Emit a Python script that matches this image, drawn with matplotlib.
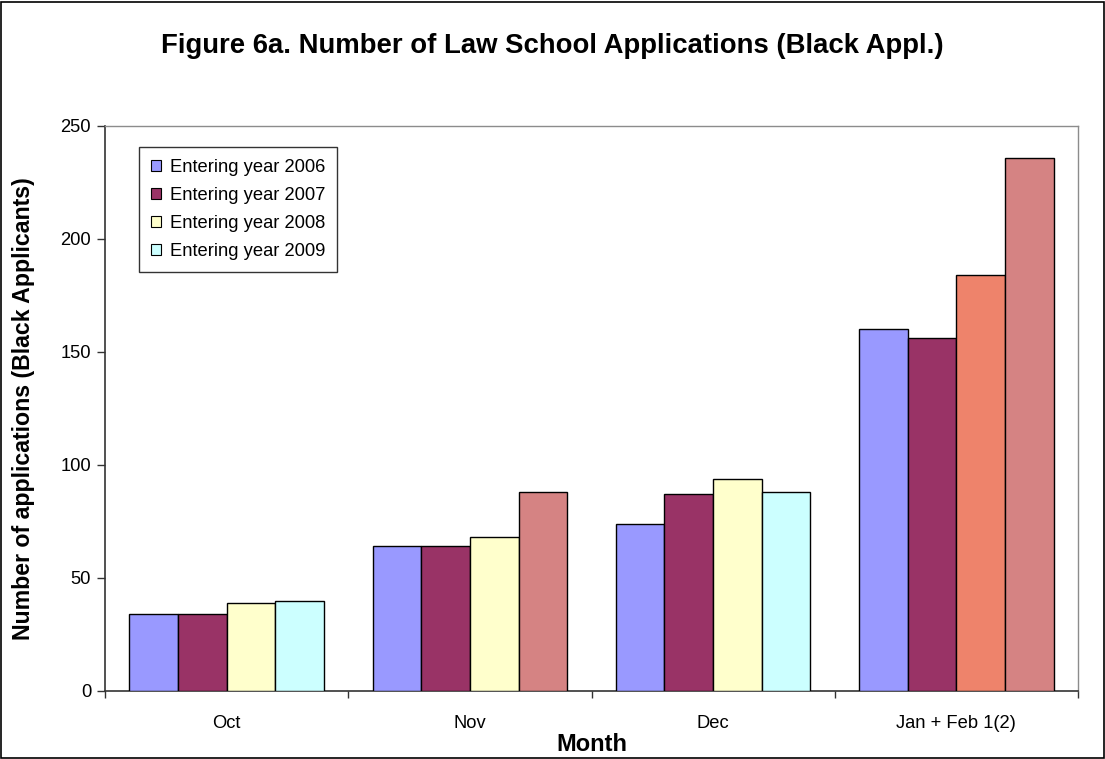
import matplotlib
matplotlib.use("Agg")
import matplotlib.pyplot as plt
import numpy as np
from matplotlib.patches import Rectangle, Patch

plt.rcParams['font.family'] = ['Liberation Sans', 'DejaVu Sans']

# Data
months = ["Oct", "Nov", "Dec", "Jan + Feb 1(2)"]
series_names = ["Entering year 2006", "Entering year 2007",
                "Entering year 2008", "Entering year 2009"]
y2006 = [34, 64, 74, 160]
y2007 = [34, 64, 87, 156]
y2008 = [39, 68, 94, 184]
y2009 = [40, 88, 88, 236]

series_values = [y2006, y2007, y2008, y2009]
series_colors = ["#9999FF", "#993366", "#FFFFCC", "#CCFFFF"]
# individual bars that carry their own fill
point_colors = {(3, 1): "#D58383", (2, 3): "#EE836B", (3, 3): "#D58383"}

fig = plt.figure(figsize=(11.05, 7.59), dpi=100)
fig.patch.set_facecolor("white")
# outer chart border
fig.add_artist(Rectangle((0.001, 0.001), 0.998, 0.997, transform=fig.transFigure,
                         fill=False, edgecolor="black", linewidth=1.2))

ax = fig.add_axes([0.095, 0.0896, 0.8806, 0.7444])

x = np.arange(len(months))
bar_w = 0.2
for si, vals in enumerate(series_values):
    offs = (si - 1.5) * bar_w
    cols = [point_colors.get((si, mi), series_colors[si]) for mi in range(len(months))]
    ax.bar(x + offs, vals, width=bar_w, color=cols, edgecolor="black",
           linewidth=1.0, zorder=3)

ax.set_xlim(-0.5, len(months) - 0.5)
ax.set_ylim(0, 250)
ax.set_yticks(np.arange(0, 251, 50))
ax.set_xticks(x)
ax.set_xticklabels(months, fontsize=13.2)
ax.set_xticks(np.arange(-0.5, len(months), 1.0), minor=True)
ax.tick_params(axis="x", which="major", length=0, pad=17)
ax.tick_params(axis="x", which="minor", length=5, width=1, color="#333333")
ax.tick_params(axis="y", length=6, width=1, color="#333333", labelsize=13.2, pad=4)

for side in ("top", "right"):
    ax.spines[side].set_color("#8C8C8C")
    ax.spines[side].set_linewidth(1.0)
for side in ("left", "bottom"):
    ax.spines[side].set_color("#333333")
    ax.spines[side].set_linewidth(1.2)

ax.set_xlabel("Month", fontsize=17, fontweight="bold", labelpad=1)
ax.set_ylabel("Number of applications (Black Applicants)", fontsize=16.7,
              fontweight="bold", labelpad=18)

fig.text(0.5, 0.94, "Figure 6a. Number of Law School Applications (Black Appl.)",
         ha="center", va="center", fontsize=19.8, fontweight="bold")

handles = [Patch(facecolor=c, edgecolor="black", linewidth=0.8) for c in series_colors]
leg = ax.legend(handles, series_names, loc="upper left",
                bbox_to_anchor=(0.035, 0.962), fontsize=13.2, frameon=True,
                fancybox=False, shadow=False, handlelength=0.55, handleheight=0.55,
                handletextpad=0.5, labelspacing=0.6, borderpad=0.65,
                borderaxespad=0.0)
leg.get_frame().set_edgecolor("black")
leg.get_frame().set_linewidth(1.0)

fig.savefig("out.png", dpi=100, facecolor="white")
